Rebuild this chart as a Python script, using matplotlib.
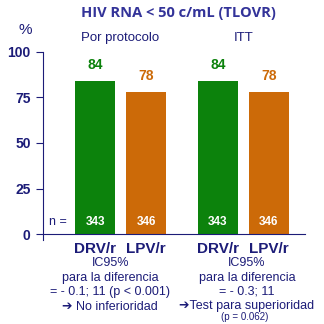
import matplotlib

matplotlib.use("Agg")
import matplotlib.pyplot as plt

# HIV RNA < 50 c/mL response rates, per-protocol and ITT
groups = ["Por protocolo", "ITT"]
arms = ["DRV/r", "LPV/r", "DRV/r", "LPV/r"]
values = [84, 78, 84, 78]
n_pat = [343, 346, 343, 346]
positions = [1.02, 2.02, 3.43, 4.43]
yticks = [0, 25, 50, 75, 100]

NAVY = "#1c1c78"
TITLE = "#333399"
GREEN = "#0c820c"
ORANGE = "#cc6a08"
colors = [GREEN, ORANGE, GREEN, ORANGE]

plt.rcParams["font.family"] = ["Liberation Sans", "DejaVu Sans"]

fig = plt.figure(figsize=(3.24, 3.24), dpi=100)
ax = fig.add_axes([0.133, 0.259, 0.808, 0.581])

ax.bar(positions, values, width=0.78, color=colors)
ax.set_xlim(0, 5.14)
ax.set_ylim(-3.3, 100)

for s in ["top", "right"]:
    ax.spines[s].set_visible(False)
ax.spines["bottom"].set_position(("data", 0))
ax.spines["bottom"].set_color(NAVY)
ax.spines["left"].set_color(NAVY)
ax.spines["left"].set_bounds(-3.3, 100)
ax.set_xticks([])
ax.set_yticks(yticks)
ax.tick_params(axis="y", length=5, color=NAVY, labelcolor=NAVY,
               labelsize=10, pad=4)
for lab in ax.get_yticklabels():
    lab.set_fontweight("bold")

for x, arm, v, n, c in zip(positions, arms, values, n_pat, colors):
    ax.text(x, v + 9, f"{v}", ha="center", va="center", color=c,
            fontsize=10, fontweight="bold")
    ax.text(x, 6.5, f"{n}", ha="center", va="center", color="white",
            fontsize=8.5, fontweight="bold")
    ax.text(x, -8, arm, ha="center", va="center",
            color=NAVY, fontsize=11, fontweight="bold")
ax.text(0.30, 6.5, "n =", ha="center", va="center", color=NAVY, fontsize=9)

fig.text(0.55, 0.96, "HIV RNA < 50 c/mL (TLOVR)", ha="center", va="center",
         color=TITLE, fontsize=10.5, fontweight="bold",
         family=["Open Sans", "DejaVu Sans"])
fig.text(0.077, 0.907, "%", ha="center", va="center", color=NAVY, fontsize=11)
fig.text(0.37, 0.883, groups[0], ha="center", va="center", color=NAVY, fontsize=9.5)
fig.text(0.753, 0.883, groups[1], ha="center", va="center", color=NAVY, fontsize=9.5)

left_notes = ["IC95%", "para la diferencia", "= - 0.1; 11 (p < 0.001)",
              "\u2794 No inferioridad"]
right_notes = ["IC95%", "para la diferencia", "= - 0.3; 11",
               "\u2794Test para superioridad"]
for i, (l, r) in enumerate(zip(left_notes, right_notes)):
    y = 1 - (263 + 14.5 * i) / 324
    fig.text(0.34, y, l, ha="center", va="center", color=NAVY, fontsize=9)
    fig.text(0.762, y, r, ha="center", va="center", color=NAVY, fontsize=9)
fig.text(0.755, 1 - 317 / 324, "(p = 0.062)", ha="center", va="center",
         color=NAVY, fontsize=7)

fig.savefig("out.png", dpi=100)
